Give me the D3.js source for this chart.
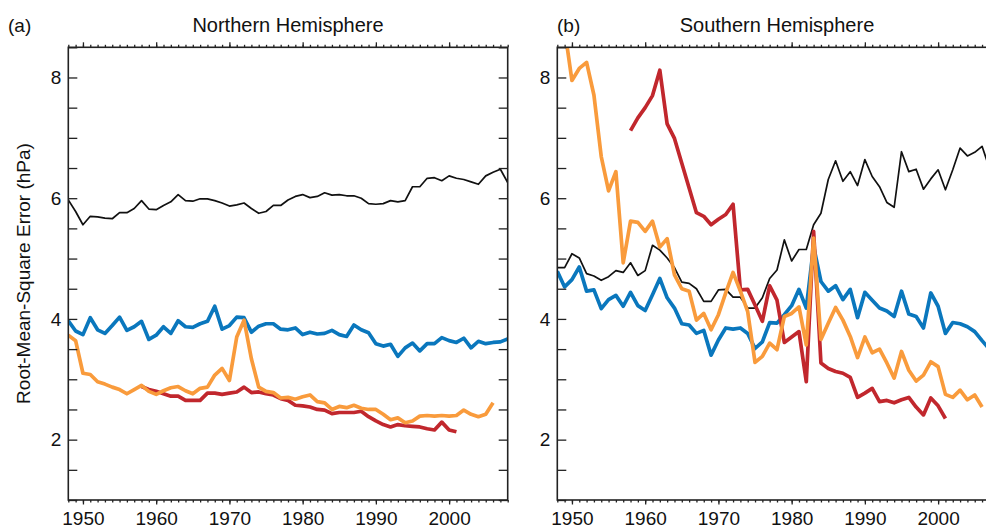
<!DOCTYPE html>
<html>
<head>
<meta charset="utf-8">
<script src="https://cdn.jsdelivr.net/npm/d3@7"></script>
<style>
  body { margin: 0; background: #fff; }
  text { font-family: "Liberation Sans", Arial, Helvetica, sans-serif; fill: #111; }
</style>
</head>
<body>
<div id="body"></div>
<script>
// data, one value per year from the start year

var nhBlackStart = 1948;
var nhBlack = [5.97,5.78,5.56,5.70,5.69,5.67,5.66,5.76,5.76,5.83,
  5.96,5.82,5.81,5.88,5.94,6.06,5.96,5.95,5.99,5.99,
  5.96,5.92,5.87,5.89,5.92,5.83,5.75,5.78,5.88,5.88,
  5.97,6.03,6.06,6.01,6.03,6.09,6.05,6.06,6.04,6.04,
  6.00,5.91,5.90,5.91,5.96,5.94,5.96,6.19,6.19,6.33,
  6.34,6.29,6.37,6.33,6.31,6.27,6.23,6.37,6.43,6.48,6.26];

var nhBlueStart = 1948;
var nhBlue = [3.97,3.80,3.74,4.02,3.82,3.76,3.89,4.03,3.81,3.87,
  3.96,3.66,3.73,3.87,3.76,3.97,3.87,3.86,3.92,3.96,
  4.21,3.83,3.89,4.03,4.02,3.78,3.88,3.92,3.92,3.83,
  3.82,3.85,3.74,3.78,3.75,3.76,3.81,3.74,3.71,3.90,
  3.82,3.77,3.59,3.55,3.58,3.38,3.52,3.60,3.47,3.59,
  3.59,3.69,3.64,3.61,3.68,3.52,3.63,3.59,3.61,3.62,3.67];

var nhOrangeStart = 1948;
var nhOrange = [3.73,3.64,3.10,3.08,2.96,2.92,2.87,2.83,2.76,2.83,
  2.90,2.80,2.75,2.81,2.86,2.88,2.81,2.76,2.85,2.87,
  3.07,3.18,2.98,3.70,3.98,3.34,2.87,2.80,2.78,2.69,
  2.70,2.67,2.71,2.74,2.63,2.61,2.50,2.55,2.53,2.57,
  2.52,2.50,2.50,2.42,2.33,2.36,2.28,2.31,2.39,2.40,
  2.39,2.40,2.39,2.40,2.49,2.42,2.38,2.42,2.61];

var nhRedStart = 1958;
var nhRed = [2.88,2.83,2.80,2.76,2.72,2.72,2.65,2.65,2.65,2.77,
  2.77,2.75,2.77,2.79,2.87,2.78,2.79,2.76,2.74,2.68,
  2.65,2.57,2.56,2.54,2.50,2.49,2.43,2.45,2.45,2.45,
  2.47,2.38,2.31,2.25,2.21,2.25,2.23,2.22,2.21,2.18,
  2.16,2.29,2.16,2.13];

var shBlackStart = 1948;
var shBlack = [4.85,4.85,5.08,5.01,4.75,4.71,4.64,4.70,4.80,4.77,
  4.93,4.72,4.80,5.22,5.14,5.01,4.85,4.61,4.59,4.50,
  4.29,4.29,4.48,4.49,4.36,4.36,4.18,4.18,4.35,4.67,
  4.81,5.31,4.96,5.15,5.15,5.56,5.75,6.31,6.62,6.28,
  6.44,6.21,6.64,6.36,6.19,5.93,5.85,6.77,6.44,6.48,
  6.15,6.32,6.47,6.14,6.47,6.83,6.70,6.76,6.86,6.50];

var shBlueStart = 1948;
var shBlue = [4.79,4.53,4.65,4.86,4.46,4.48,4.17,4.32,4.39,4.21,
  4.44,4.22,4.14,4.40,4.67,4.35,4.18,3.92,3.90,3.76,
  3.81,3.40,3.65,3.85,3.83,3.85,3.76,3.51,3.62,3.94,
  3.93,4.07,4.22,4.49,4.18,5.20,4.62,4.46,4.55,4.32,
  4.49,4.02,4.44,4.31,4.18,4.13,4.04,4.46,4.08,4.04,
  3.85,4.43,4.21,3.76,3.94,3.92,3.87,3.79,3.64,3.50];

var shOrangeStart = 1949;
var shOrange = [8.80,
  7.95,8.15,8.25,7.71,6.69,6.12,6.44,4.93,5.62,5.60,
  5.45,5.62,5.19,5.33,4.73,4.50,4.46,3.98,4.09,3.82,
  4.07,4.43,4.77,4.46,4.12,3.28,3.38,3.60,3.49,4.04,
  4.09,4.20,3.57,5.34,3.66,3.93,4.19,3.98,3.71,3.36,
  3.70,3.44,3.50,3.27,3.02,3.46,3.15,2.97,3.07,3.29,
  3.21,2.75,2.70,2.82,2.66,2.74,2.54];

var shRedStart = 1958;
var shRed = [7.12,7.33,7.50,7.70,8.12,7.23,6.99,6.58,6.17,5.76,
  5.70,5.56,5.65,5.73,5.90,4.48,4.49,4.23,3.96,4.55,
  4.31,3.61,3.70,3.79,2.96,5.45,3.27,3.18,3.13,3.10,
  3.03,2.70,2.77,2.85,2.63,2.65,2.61,2.66,2.70,2.54,
  2.41,2.69,2.56,2.35];

var yearDomain = [1948, 2008];
var rmseDomain = [1, 8.5];
var yTickValues = [1,1.5,2,2.5,3,3.5,4,4.5,5,5.5,6,6.5,7,7.5,8,8.5];
var yTickLabels = [2, 4, 6, 8];
var decadeTicks = [1950, 1960, 1970, 1980, 1990, 2000];

var svgWidth = 986;
var svgHeight = 529;

var plotTop = 47.3;
var plotBottom = 500;
var plotWidth = 439.4;

var colors = { black: "#111111", blue: "#0a77bd", orange: "#f99b3c", red: "#c1272d" };

var svg = d3.select("#body")
  .append("svg")
  .attr("width", svgWidth)
  .attr("height", svgHeight);

function toPoints(start, values) {
  return values.map(function(v, i) { return { year: start + i, value: v }; });
}

function drawPanel(left, id, letter, letterX, title, series) {
  var x = d3.scaleLinear().domain(yearDomain).range([left, left + plotWidth]);
  var y = d3.scaleLinear().domain(rmseDomain).range([plotBottom, plotTop]);

  var minorYears = d3.range(yearDomain[0], yearDomain[1] + 1);

  svg.append("clipPath").attr("id", "clip-" + id)
    .append("rect")
    .attr("x", left).attr("y", plotTop)
    .attr("width", plotWidth).attr("height", plotBottom - plotTop);

  // lines
  var line = d3.line()
    .x(function(d) { return x(d.year); })
    .y(function(d) { return y(d.value); });

  var g = svg.append("g").attr("clip-path", "url(#clip-" + id + ")");
  series.forEach(function(s) {
    g.append("path")
      .datum(toPoints(s.start, s.values))
      .attr("fill", "none")
      .attr("stroke", s.color)
      .attr("stroke-width", s.width)
      .attr("stroke-linejoin", "round")
      .attr("d", line);
  });

  // y axis left and right, ticks pointing inward
  var leftAxis = d3.axisLeft(y).tickValues(yTickValues).tickSize(-9).tickPadding(7)
    .tickFormat(function(d) { return yTickLabels.indexOf(d) >= 0 ? d : ""; });
  var gl = svg.append("g").attr("transform", "translate(" + left + ",0)").call(leftAxis);
  gl.selectAll("text").style("font-size", "19px").attr("fill", "#111");

  var rightAxis = d3.axisRight(y).tickValues(yTickValues).tickSize(-9).tickFormat("");
  svg.append("g").attr("transform", "translate(" + (left + plotWidth) + ",0)").call(rightAxis);

  // top axis, outward ticks
  svg.append("g").attr("transform", "translate(0," + plotTop + ")")
    .call(d3.axisTop(x).tickValues(minorYears).tickSize(2.5).tickFormat(""));
  svg.append("g").attr("transform", "translate(0," + plotTop + ")")
    .call(d3.axisTop(x).tickValues(decadeTicks).tickSize(5).tickFormat(""));

  // bottom axis
  svg.append("g").attr("transform", "translate(0," + plotBottom + ")")
    .call(d3.axisBottom(x).tickValues(minorYears).tickSize(2.5).tickFormat(""));
  var gb = svg.append("g").attr("transform", "translate(0," + plotBottom + ")")
    .call(d3.axisBottom(x).tickValues(decadeTicks).tickSize(4.5).tickPadding(7.5)
      .tickFormat(d3.format("d")));
  gb.selectAll("text").style("font-size", "19px").attr("fill", "#111");

  svg.selectAll(".domain").remove();
  svg.selectAll(".tick line").attr("stroke", "#222").attr("stroke-width", 1.3);

  // frame
  svg.append("rect")
    .attr("x", left).attr("y", plotTop)
    .attr("width", plotWidth).attr("height", plotBottom - plotTop)
    .attr("fill", "none").attr("stroke", "#222").attr("stroke-width", 1.6);

  svg.append("text").attr("x", letterX).attr("y", 31.5)
    .style("font-size", "19px").text(letter);
  svg.append("text").attr("x", left + plotWidth / 2).attr("y", 31.5)
    .attr("text-anchor", "middle").style("font-size", "20px").text(title);
}

drawPanel(68.3, "nh", "(a)", 8, "Northern Hemisphere", [
  { start: nhBlackStart, values: nhBlack, color: colors.black, width: 1.7 },
  { start: nhBlueStart, values: nhBlue, color: colors.blue, width: 3.7 },
  { start: nhRedStart, values: nhRed, color: colors.red, width: 3.7 },
  { start: nhOrangeStart, values: nhOrange, color: colors.orange, width: 3.7 }
]);

drawPanel(557.3, "sh", "(b)", 557, "Southern Hemisphere", [
  { start: shBlackStart, values: shBlack, color: colors.black, width: 1.7 },
  { start: shBlueStart, values: shBlue, color: colors.blue, width: 3.7 },
  { start: shRedStart, values: shRed, color: colors.red, width: 3.7 },
  { start: shOrangeStart, values: shOrange, color: colors.orange, width: 3.7 }
]);

svg.append("text")
  .attr("transform", "translate(30,273.5) rotate(-90)")
  .attr("text-anchor", "middle")
  .style("font-size", "19px")
  .text("Root-Mean-Square Error (hPa)");
</script>
</body>
</html>
